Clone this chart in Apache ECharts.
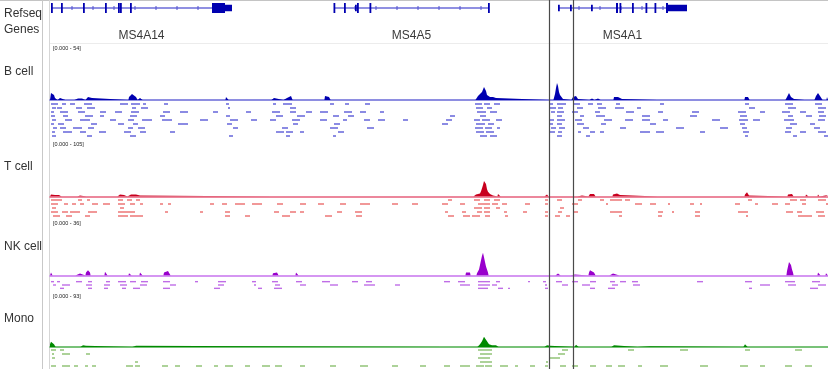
<!DOCTYPE html>
<html><head><meta charset="utf-8">
<script src="https://cdn.jsdelivr.net/npm/echarts@6/dist/echarts.min.js"></script>
<style>html,body{margin:0;padding:0;background:#fff}#c{width:828px;height:369px}</style>
</head><body><div id="c"></div>
<script>
// ---------------- DATA ----------------
const viewStart = 50, viewEnd = 828;
const geneNames = ['MS4A14', 'MS4A5', 'MS4A1'];
const geneStarts = [51, 334, 558];
const geneEnds = [232, 489, 687];
// [start, end, isCDS]
const exons = [
  [51,52.5,1],[61,62.5,1],[83,84.5,1],[105,106.5,1],[118,119,1],[120,121,1],[130,131.5,1],[212,225,1],[225,232,0],
  [333.5,335,1],[344,345.5,1],[355,356,0],[357,358.5,1],[369.5,371,1],[488,489.5,1],
  [558,559,0],[570,571,0],[591,592,0],[616,618,1],[619.5,621,1],[632,633.5,1],[645.5,647,1],[654.5,656,1],[666,668,1],[668,687,0]
];
const roiMarks = [548.5, 572.5];
const trackNames = ['B cell', 'T cell', 'NK cell', 'Mono'];
const trackMax = [54, 105, 36, 93];

const peaksB = [
 [[51,7],[52,7],[53,6],[54,5],[55,2],[56,2],[57,1]],
 [[59,2],[60,2]],[[66,1]],
 [[75,1.5],[78,1.5],[82,1.5]],
 [[86,2],[88,3],[90,3],[92,2]],
 [[129,3],[131,5],[132,6],[134,5],[136,3],[137,1]],
 [[140,2],[142,2]],
 [[226,3],[227,3],[228,2]],
 [[272,2],[274,2]],
 [[284,2],[287,2],[289,4],[291,4],[292,2]],
 [[325,4],[327,4],[329,3],[330,2]],
 [[337,1]],[[350,1]],[[358,1]],
 [[476,1],[478,4],[480,6],[482,8],[483,10],[484,13],[485,14],[486,9],[487,5],[488,3],[490,3],[491,2],[493,3],[494,3],[495,2],[496,2],[497,1]],
 [[549,2],[550,2]],
 [[554,2],[555,6],[556,12],[557,17],[558,14],[559,8],[560,5],[561,3],[562,3],[563,1]],
 [[572,2],[573,3],[575,4],[576,4],[577,3],[578,1]],
 [[590,1.5],[592,1.5]],
 [[595,1.5],[598,1.5],[600,1]],
 [[614,3],[616,3],[618,3],[620,2],[622,1]],
 [[658,2],[659,2]],
 [[693,2],[694,2]],
 [[745,3],[746,5],[747,5],[748,3],[749,1]],
 [[786,2],[787,3],[788,5],[789,7],[790,6],[791,3],[793,2],[794,1]],
 [[805,1]],
 [[815,2],[816,4],[817,6],[818,7],[819,6],[820,4],[822,2]],
 [[827,3],[828,3]]
];
const peaksT = [
 [[51,4],[53,4],[55,3],[57,4],[59,3],[61,1]],
 [[78,2],[80,2]],[[87,2]],
 [[118,3],[120,4],[122,4],[124,3]],
 [[128,3],[131,4],[133,5],[136,4],[138,4],[140,2]],
 [[273,2]],[[450,2]],
 [[474,3],[476,4],[478,3],[480,6],[481,10],[482,16],[483,22],[484,30],[485,32],[486,24],[487,14],[488,9],[489,6],[490,5],[492,5],[493,2]],
 [[498,5],[499,5],[500,3]],
 [[545,3],[547,4],[548,2]],
 [[556,2]],
 [[578,2],[582,2]],
 [[589,3],[590,5],[592,6],[594,5],[595,2]],
 [[613,4],[615,5],[617,6],[619,5],[620,3]],
 [[658,2]],
 [[745,4],[746,6],[747,8],[748,5],[749,2]],
 [[788,4],[790,6],[792,5],[793,3]],
 [[806,4],[808,4]],
 [[818,4],[819,4]],
 [[826,3],[828,3]]
];
const peaksNK = [
 [[51,2],[52,2]],[[56,0.7]],[[61,0.7]],
 [[76,1.3],[80,1.3]],
 [[86,2],[87,3],[88,3.5],[89,3],[90,2]],
 [[105,2.5],[107,2.5]],
 [[122,1.3]],
 [[129,1.5],[130,2],[131,1.5]],
 [[140,2],[141,3],[142,2]],
 [[164,2],[166,3],[168,3],[170,2]],
 [[217,1.3]],[[252,0.7]],
 [[273,1.5],[275,2],[277,2],[278,1]],
 [[296,2],[297,3],[298,2]],
 [[347,1.3]],[[380,1]],[[460,1.3]],
 [[466,2],[468,2],[470,2]],
 [[477,1.5],[479,4],[480,7],[481,10],[482,13],[483,15],[484,12],[485,9],[486,6],[487,4],[488,2]],
 [[528,0.7]],[[547,0.7]],
 [[556,1],[558,1.3],[560,1]],[[565,0.7]],
 [[571,0.7],[575,0.7]],
 [[589,2],[590,3.5],[592,3],[594,2],[595,1]],
 [[610,1.3],[613,1.3]],[[620,0.7]],
 [[697,0.7]],[[749,1.3]],
 [[787,3],[788,6],[789,9],[790,10],[791,7],[792,4],[793,2]],
 [[818,2],[819,3],[820,2]],
 [[826,1.5],[828,1.5]]
];
const peaksMono = [
 [[50,5],[51,9],[52,10],[53,9],[54,5],[55,2]],
 [[64,1.5]],
 [[81,3],[83,3],[86,2]],
 [[133,3],[134,3],[136,2]],
 [[446,1.5]],
 [[478,3],[480,5],[482,10],[483,14],[484,18],[485,21],[486,15],[487,10],[488,8],[489,5],[490,4],[492,3]],
 [[494,3],[496,3],[498,2]],
 [[545,3],[547,3],[550,2]],
 [[575,3],[576,4],[578,3]],
 [[595,1.5]],
 [[612,3],[614,3]],
 [[638,1.5],[650,1.5]],
 [[744,3],[745,5],[746,4],[747,2]],
 [[798,1.5]],
 [[826,2]]
];

// reads: one list of [start, end] per stacking row
const readsB = [
 [[51,58],[62,66],[70,75],[84,92],[120,128],[131,140],[143,146],[164,168],[226,229],[273,276],[283,292],[330,334],[345,349],[365,370],[475,482],[484,490],[494,500],[549,553],[557,566],[574,580],[588,593],[597,602],[616,620],[660,664],[745,749],[785,793],[815,822]],
 [[52,56],[57,62],[76,82],[87,95],[132,136],[141,148],[228,230],[290,296],[476,483],[487,492],[550,556],[558,563],[577,583],[598,606],[615,624],[637,641],[749,755],[788,796],[818,826]],
 [[51,54],[60,68],[78,85],[100,106],[115,122],[131,139],[163,170],[180,188],[213,218],[246,251],[272,280],[290,296],[306,312],[320,328],[344,352],[360,366],[380,384],[477,486],[490,497],[551,555],[557,564],[572,578],[595,600],[626,634],[658,663],[692,699],[738,746],[760,765],[782,790],[800,806],[818,824]],
 [[51,55],[63,68],[85,93],[100,104],[130,137],[160,165],[226,230],[276,283],[297,305],[333,339],[348,354],[450,455],[480,486],[557,562],[580,584],[596,605],[642,650],[690,697],[740,747],[788,793],[806,812],[819,826]],
 [[52,56],[65,72],[80,90],[110,116],[128,134],[142,152],[162,172],[200,208],[230,238],[251,257],[270,276],[292,300],[320,327],[343,347],[364,370],[378,385],[403,408],[446,452],[474,480],[482,490],[496,502],[549,554],[557,565],[575,582],[604,612],[625,633],[642,650],[663,668],[712,720],[739,748],[753,760],[784,794],[818,825]],
 [[51,54],[58,64],[91,97],[118,124],[133,138],[178,188],[227,232],[293,298],[334,340],[442,448],[476,485],[488,494],[550,553],[557,562],[577,584],[601,606],[650,656],[740,745],[790,797],[810,815]],
 [[53,57],[60,66],[73,82],[88,94],[128,133],[138,145],[233,238],[282,288],[330,338],[367,374],[475,483],[485,492],[497,500],[551,556],[559,565],[583,589],[620,626],[676,684],[720,728],[742,747],[786,792],[814,820]],
 [[52,55],[63,72],[80,86],[99,106],[124,131],[140,146],[170,175],[276,284],[286,293],[300,304],[338,344],[476,484],[486,494],[550,555],[558,562],[578,581],[590,595],[600,604],[640,650],[656,664],[700,705],[743,749],[785,791],[800,806],[818,826]],
 [[52,56],[87,92],[130,136],[229,233],[286,290],[333,336],[480,487],[490,497],[557,562],[586,590],[745,748],[793,797],[824,828]]
];
const readsT = [
 [[51,62],[78,82],[87,90],[118,123],[127,132],[136,140],[448,452],[474,480],[484,490],[494,500],[545,548],[557,562],[578,582],[600,604],[610,622],[625,630],[748,752],[790,797],[800,806],[818,826]],
 [[51,58],[64,68],[72,76],[80,84],[92,98],[103,110],[118,125],[130,135],[140,143],[160,163],[168,171],[210,214],[222,227],[235,245],[252,262],[277,283],[300,306],[318,324],[340,346],[360,370],[392,398],[412,418],[442,448],[460,465],[478,490],[492,498],[502,507],[525,530],[545,548],[572,578],[606,608],[635,642],[650,656],[668,670],[690,694],[700,702],[735,740],[755,758],[772,778],[785,790],[802,806],[826,828]],
 [[52,56],[120,124],[474,482],[484,490],[496,500],[560,564]],
 [[51,58],[62,68],[70,80],[88,97],[118,135],[165,168],[200,203],[225,230],[274,279],[290,296],[300,304],[337,342],[355,362],[445,448],[462,466],[477,482],[484,490],[504,507],[523,527],[545,548],[558,562],[573,578],[610,622],[658,663],[672,674],[695,700],[738,748],[786,793],[797,802],[816,824]],
 [[53,60],[66,72],[85,90],[118,128],[130,143],[225,230],[245,250],[282,290],[325,332],[356,362],[448,454],[463,470],[472,480],[485,490],[505,508],[545,548],[555,560],[566,570],[619,622],[658,662],[695,700],[746,748],[798,812],[818,825]]
];
const readsNK = [
 [[51,54],[57,60],[76,82],[88,92],[106,110],[118,126],[130,136],[141,148],[163,170],[195,198],[218,226],[252,256],[272,278],[296,302],[322,330],[352,358],[366,372],[444,450],[458,465],[478,490],[496,500],[528,530],[543,546],[556,562],[572,578],[590,596],[610,615],[620,626],[632,638],[697,703],[745,752],[785,795],[812,820]],
 [[53,56],[62,70],[86,92],[104,110],[120,127],[140,147],[170,176],[218,224],[254,256],[275,280],[300,306],[330,338],[364,375],[395,400],[460,470],[478,490],[492,497],[545,547],[562,568],[582,590],[612,618],[633,640],[760,770],[788,796],[818,826]],
 [[60,64],[88,92],[104,108],[122,126],[133,140],[163,170],[214,220],[258,262],[274,282],[478,488],[498,503],[508,510],[545,548],[590,595],[608,615],[749,752],[810,818]]
];
const readsMono = [
 [[51,56],[60,64],[478,492],[562,568],[628,634],[680,688],[745,750],[795,802]],
 [[52,54],[62,70],[86,90],[480,492],[558,565]],
 [[52,55],[478,490],[550,560]],
 [[135,138],[480,492],[546,548]],
 [[51,56],[62,70],[74,78],[85,88],[92,96],[126,133],[135,140],[162,168],[175,180],[196,202],[214,218],[225,233],[245,250],[262,270],[275,282],[300,305],[330,336],[360,368],[392,398],[420,426],[444,450],[460,470],[476,484],[485,492],[500,508],[515,518],[530,535],[545,548],[560,566],[572,578],[590,596],[606,612],[618,625],[638,642],[660,668],[700,708],[740,748],[760,765],[785,792],[805,812]]
];

// ---------------- LAYOUT / STYLE ----------------
const FONT = "'Liberation Sans', Arial, sans-serif";
const tracks = [
 {peaks: peaksB, reads: readsB, covTop: 46, covH: 54, readTop: 102, readH: 36, labelY: 72, rangeY: 45, area: '#0000b0', base: '#6a6ad8', read: '#3c3cd0'},
 {peaks: peaksT, reads: readsT, covTop: 142, covH: 54.5, readTop: 198, readH: 20, labelY: 167, rangeY: 141, area: '#c8001e', base: '#e6607c', read: '#e65252'},
 {peaks: peaksNK, reads: readsNK, covTop: 221, covH: 54.5, readTop: 280, readH: 10, labelY: 247, rangeY: 220, area: '#9900cc', base: '#c874ee', read: '#b454e2'},
 {peaks: peaksMono, reads: readsMono, covTop: 294, covH: 53, readTop: 348, readH: 20, labelY: 319, rangeY: 293, area: '#008a00', base: '#4cae4c', read: '#74b454'}
];

function buildCoverage(peaks) {
  const pts = [[viewStart, 0]];
  peaks.forEach(p => {
    pts.push([p[0][0] - 0.6, 0]);
    p.forEach(q => pts.push(q));
    pts.push([p[p.length - 1][0] + 0.6, 0]);
  });
  pts.push([viewEnd, 0]);
  pts.sort((a, b) => a[0] - b[0]);
  return pts;
}
function flattenReads(rows) {
  const out = [];
  rows.forEach((row, r) => row.forEach(s => out.push([s[0], s[1], r])));
  return out;
}

const grids = [], xAxes = [], yAxes = [], series = [];
function addGrid(top, height, xShow, baseColor, ymin, ymax, inverse) {
  grids.push({left: 50, right: 0, top: top, height: height, containLabel: false});
  const i = grids.length - 1;
  xAxes.push({gridIndex: i, type: 'value', min: viewStart, max: viewEnd, show: xShow,
    axisLine: {show: xShow, onZero: true, lineStyle: {color: baseColor, width: 1.6}},
    axisTick: {show: false}, axisLabel: {show: false}, splitLine: {show: false}});
  yAxes.push({gridIndex: i, type: 'value', min: ymin, max: ymax, show: false, inverse: !!inverse,
    splitLine: {show: false}});
  return i;
}

// gene track
const gI = addGrid(0, 43, false, '#000', 0, 1);
const geneData = geneNames.map((n, i) => [geneStarts[i], geneEnds[i], i]);
series.push({
  type: 'custom', xAxisIndex: gI, yAxisIndex: gI, silent: true, data: geneData, z: 2,
  renderItem: function (params, api) {
    const cs = params.coordSys;
    const y = cs.y + 8;
    const x0 = api.coord([api.value(0), 0])[0];
    const x1 = api.coord([api.value(1), 0])[0];
    const children = [{type: 'line', shape: {x1: x0, y1: y, x2: x1, y2: y}, style: {stroke: '#6b6bd8', lineWidth: 1.6}}];
    for (let px = x0 + 21; px < x1 - 5; px += 21) {
      children.push({type: 'line', shape: {x1: px, y1: y - 2, x2: px, y2: y + 2}, style: {stroke: '#5050d0', lineWidth: 1}});
    }
    children.push({type: 'text', x: (x0 + x1) / 2, y: cs.y + 36,
      style: {text: geneNames[api.value(2)], fill: '#3a3a3a', font: '12px ' + FONT, textAlign: 'center', textVerticalAlign: 'middle'}});
    return {type: 'group', children: children};
  }
});
series.push({
  type: 'custom', xAxisIndex: gI, yAxisIndex: gI, silent: true, data: exons, z: 3,
  renderItem: function (params, api) {
    const cs = params.coordSys;
    const y = cs.y + 8;
    const a = api.coord([api.value(0), 0])[0];
    const b = api.coord([api.value(1), 0])[0];
    const h = api.value(2) ? 10 : 6.5;
    const w = Math.max(b - a, 1.8);
    return {type: 'rect', shape: {x: a, y: y - h / 2, width: w, height: h}, style: {fill: '#0000b0'}};
  }
});

// data tracks
tracks.forEach((t, k) => {
  const ci = addGrid(t.covTop, t.covH, true, t.base, 0, trackMax[k]);
  series.push({type: 'line', xAxisIndex: ci, yAxisIndex: ci, data: buildCoverage(t.peaks),
    symbol: 'none', showSymbol: false, silent: true, z: 3,
    lineStyle: {width: 0, color: t.area}, areaStyle: {color: t.area, opacity: 1}});
  const nRows = t.reads.length;
  const ri = addGrid(t.readTop, t.readH, false, '#000', -0.5, nRows - 0.5, true);
  series.push({type: 'custom', xAxisIndex: ri, yAxisIndex: ri, silent: true, data: flattenReads(t.reads), z: 2,
    renderItem: (function (col) {
      return function (params, api) {
        const s = api.coord([api.value(0), api.value(2)]);
        const e = api.coord([api.value(1), api.value(2)]);
        return {type: 'rect', shape: {x: s[0], y: s[1] - 0.7, width: Math.max(e[0] - s[0], 1), height: 1.4},
          style: {fill: col, opacity: 0.85}};
      };
    })(t.read)});
});

// ROI overlay
const oI = addGrid(0, 369, false, '#000', 0, 1);
series.push({type: 'custom', xAxisIndex: oI, yAxisIndex: oI, silent: true, data: roiMarks.map(v => [v]), z: 10,
  renderItem: function (params, api) {
    const cs = params.coordSys;
    const x = Math.round(api.coord([api.value(0), 0])[0]) + 0.5;
    return {type: 'line', shape: {x1: x, y1: cs.y, x2: x, y2: cs.y + cs.height}, style: {stroke: '#4a4a4a', lineWidth: 1.2}};
  }});

// static frame and labels
const graphic = [
  {type: 'line', shape: {x1: 0, y1: 0.5, x2: 828, y2: 0.5}, style: {stroke: '#c4c4c4', lineWidth: 1}, silent: true},
  {type: 'line', shape: {x1: 42.5, y1: 0, x2: 42.5, y2: 369}, style: {stroke: '#c8c8c8', lineWidth: 1}, silent: true},
  {type: 'line', shape: {x1: 49.5, y1: 0, x2: 49.5, y2: 369}, style: {stroke: '#d6d6d6', lineWidth: 1}, silent: true},
  {type: 'line', shape: {x1: 50, y1: 43.5, x2: 828, y2: 43.5}, style: {stroke: '#ececec', lineWidth: 1}, silent: true},
  {type: 'text', x: 4, y: 14, style: {text: 'Refseq', fill: '#333', font: '12px ' + FONT, textVerticalAlign: 'middle'}},
  {type: 'text', x: 4, y: 30, style: {text: 'Genes', fill: '#333', font: '12px ' + FONT, textVerticalAlign: 'middle'}}
];
tracks.forEach((t, k) => {
  graphic.push({type: 'text', x: 4, y: t.labelY, style: {text: trackNames[k], fill: '#333', font: '12px ' + FONT, textVerticalAlign: 'middle'}});
  graphic.push({type: 'text', x: 53, y: t.rangeY, style: {text: '[0.000 - ' + trackMax[k] + ']', fill: '#222', font: '5.5px ' + FONT, textVerticalAlign: 'top'}});
});

const chart = echarts.init(document.getElementById('c'), null, {renderer: 'canvas'});
chart.setOption({
  animation: false,
  backgroundColor: '#ffffff',
  grid: grids, xAxis: xAxes, yAxis: yAxes, series: series, graphic: graphic
});
</script></body></html>
